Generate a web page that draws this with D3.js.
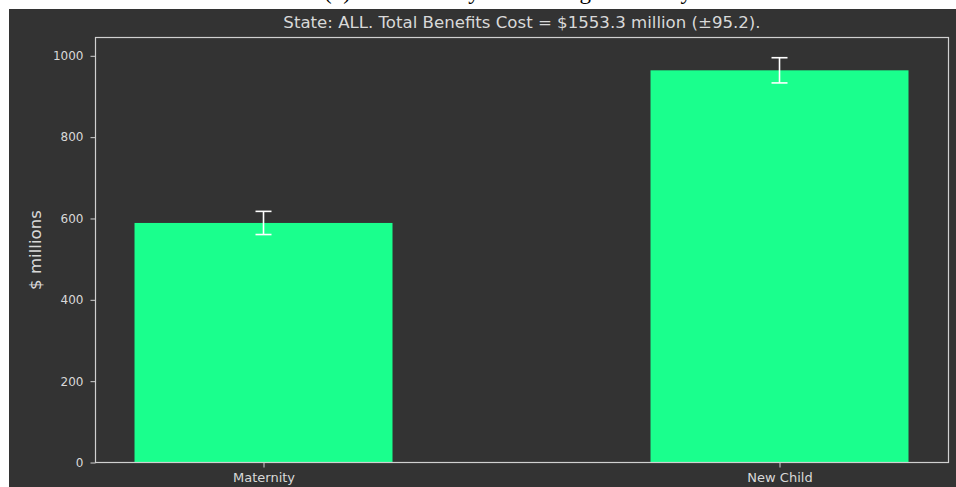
<!DOCTYPE html>
<html>
<head>
<meta charset="utf-8">
<script src="https://cdn.jsdelivr.net/npm/d3@7"></script>
<style>
  body { margin: 0; background: #ffffff; }
  svg { display: block; }
</style>
</head>
<body>
<svg id="chart" width="956" height="487"></svg>
<script>
const categories = ["Maternity", "New Child"];
const costs = [589.0, 964.3];
const errors = [28.5, 31.0];
const yTicks = [0, 200, 400, 600, 800, 1000];
const titleText = "State: ALL. Total Benefits Cost = $1553.3 million (\u00b195.2).";
const yLabel = "$ millions";

const svg = d3.select("#chart");

// page caption cut off above the figure
svg.append("text")
    .attr("x", 508)
    .attr("y", -1)
    .attr("text-anchor", "middle")
    .attr("font-family", "Liberation Serif, serif")
    .attr("font-size", 23)
    .attr("fill", "#000")
    .text("(b) Total Cost by Leave Program Yearly");

svg.append("rect")
    .attr("x", 9).attr("y", 9)
    .attr("width", 947).attr("height", 478)
    .attr("fill", "#333333");

const margin = { top: 37.5, right: 7.5, bottom: 24.5, left: 95.5 };
const width = 956 - margin.left - margin.right;
const height = 487 - margin.top - margin.bottom;
const g = svg.append("g").attr("transform", `translate(${margin.left},${margin.top})`);

const barWidth = 0.5;
const x = d3.scaleLinear().domain([-0.3256, 1.3275]).range([0, width]);
const y = d3.scaleLinear().domain([0, 1045]).range([height, 0]);

const data = categories.map((c, i) => ({ name: c, i, value: costs[i], err: errors[i] }));

g.selectAll("rect.bar")
    .data(data)
    .enter().append("rect")
    .attr("class", "bar")
    .attr("x", d => x(d.i - barWidth / 2))
    .attr("width", d => x(d.i + barWidth / 2) - x(d.i - barWidth / 2))
    .attr("y", d => y(d.value))
    .attr("height", d => y(0) - y(d.value))
    .attr("fill", "#1aff8d");

// error bars
const eb = g.selectAll("g.err").data(data).enter().append("g")
    .attr("stroke", "#ffffff").attr("stroke-width", 1.6);
eb.append("line")
    .attr("x1", d => x(d.i)).attr("x2", d => x(d.i))
    .attr("y1", d => y(d.value + d.err)).attr("y2", d => y(d.value - d.err));
eb.append("line")
    .attr("x1", d => x(d.i) - 8).attr("x2", d => x(d.i) + 8)
    .attr("y1", d => y(d.value + d.err)).attr("y2", d => y(d.value + d.err));
eb.append("line")
    .attr("x1", d => x(d.i) - 8).attr("x2", d => x(d.i) + 8)
    .attr("y1", d => y(d.value - d.err)).attr("y2", d => y(d.value - d.err));

// axes
const textColor = "#d9d9d9";
const yAxis = g.append("g")
    .call(d3.axisLeft(y).tickValues(yTicks).tickFormat(d3.format("d")).tickSize(5).tickPadding(7));
yAxis.selectAll("text").attr("font-size", 12);
const xAxis = g.append("g")
    .attr("transform", `translate(0,${height})`)
    .call(d3.axisBottom(x).tickValues([0, 1]).tickFormat(d => categories[d]).tickSize(5).tickPadding(5));
xAxis.selectAll("text").attr("font-size", 13);
[yAxis, xAxis].forEach(a => {
    a.select(".domain").remove();
    a.selectAll("line").attr("stroke", "#d0d0d0");
    a.selectAll("text")
        .attr("fill", textColor)
        .attr("font-family", "DejaVu Sans, sans-serif");
});

// frame
g.append("rect")
    .attr("width", width).attr("height", height)
    .attr("fill", "none")
    .attr("stroke", "#d0d0d0")
    .attr("stroke-width", 1.2);

g.append("text")
    .attr("x", width / 2)
    .attr("y", -9.5)
    .attr("text-anchor", "middle")
    .attr("font-family", "DejaVu Sans, sans-serif")
    .attr("font-size", 16.6)
    .attr("fill", textColor)
    .text(titleText);

g.append("text")
    .attr("transform", `translate(${-55},${height / 2}) rotate(-90)`)
    .attr("text-anchor", "middle")
    .attr("font-family", "DejaVu Sans, sans-serif")
    .attr("font-size", 16.6)
    .attr("fill", textColor)
    .text(yLabel);
</script>
</body>
</html>
